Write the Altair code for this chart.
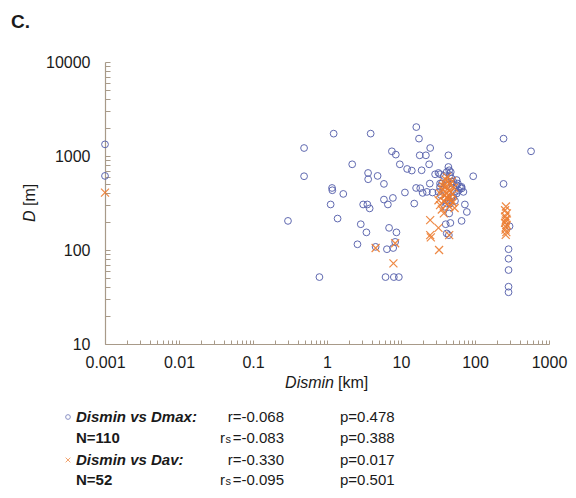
import altair as alt
import pandas as pd

# ---------------- data ----------------
# Dismin vs Dmax (circles), N=110
dmax_dismin = [0.001, 0.001, 0.297, 0.49, 0.49, 0.79, 1.23, 1.17, 1.18, 1.12,
               1.39, 1.66, 2.19, 2.86, 2.58, 3.41, 3.59, 3.6, 3.89, 3.08,
               3.51, 3.77, 4.83, 5.88, 5.88, 6.65, 7.77, 6.9, 8.68, 4.54,
               6.45, 7.84, 8.34, 6.18, 8.0, 9.35, 7.53, 8.51, 9.64, 11.3,
               12.1, 14.0, 15.1, 16.1, 17.5, 16.0, 18.2, 19.6, 17.9, 21.7,
               24.8, 19.0, 24.0, 24.5, 26.7, 28.9, 32.1, 43.7, 43.7, 44.8,
               94.6, 73.0, 77.6, 65.9, 40.2, 46.5, 41.5, 44.3, 44.8, 243,
               572, 243, 293, 284, 284, 284, 284, 284, 22.4, 33.7,
               41.5, 48.4, 56.5, 65.9, 53.6, 48.4, 53.6, 45.9, 41.5, 45.9,
               47.0, 33.7, 37.9, 48.4, 50.9, 56.5, 58.6, 62.5, 66.0, 69.7,
               56.5, 50.9, 44.0, 41.5, 35.6, 33.7, 32.1, 34.5, 39.4, 60.0]
dmax_d = [1330, 614, 204, 1216, 609, 51.5, 1729, 457, 432, 305,
          216, 395, 816, 188, 115, 154, 660, 566, 1730, 305,
          305, 277, 614, 505, 344, 305, 358, 172, 154, 108,
          102, 105, 122, 51.5, 51.5, 51.5, 1122, 1035, 816, 409,
          728, 700, 312, 2031, 1530, 457, 454, 405, 1017, 1017,
          1216, 705, 816, 509, 409, 639, 660, 1017, 764, 705,
          609, 305, 254, 204, 188, 194, 150, 144, 245, 1530,
          1122, 505, 179, 102, 80.7, 61.2, 40.7, 35.5, 415, 509,
          489, 509, 489, 469, 415, 367, 333, 312, 676, 624,
          676, 640, 614, 575, 534, 555, 509, 469, 452, 415,
          399, 367, 338, 312, 509, 469, 415, 384, 288, 430]

# Dismin vs Dav (crosses), N=52
dav_dismin = [0.001, 4.54, 8.34, 7.9, 24.8, 32.1, 24.8, 25.3, 44.8, 32.7,
              262, 255, 270, 258, 265, 260, 255, 268, 262, 258,
              265, 260, 33.7, 32.1, 33.7, 35.6, 37.9, 40.0, 42.0, 44.0,
              46.0, 38.0, 40.0, 43.0, 45.0, 47.0, 50.0, 36.0, 39.0, 41.0,
              44.0, 48.0, 50.0, 42.0, 45.0, 52.0, 38.0, 46.0, 49.0, 41.0,
              37.0, 53.0]
dav_d = [408, 105, 118, 72, 208, 172, 144, 136, 144, 100,
         290, 265, 245, 228, 215, 205, 195, 185, 175, 165,
         155, 145, 400, 338, 300, 270, 245, 560, 600, 540,
         500, 520, 470, 450, 430, 410, 390, 440, 380, 360,
         350, 340, 320, 310, 290, 460, 330, 370, 540, 410,
         480, 280]

x_labels = [0.001, 0.01, 0.1, 1, 10, 100, 1000]
y_labels = [10, 100, 1000, 10000]
x_minor = [m * 10.0 ** e for e in range(-3, 3) for m in range(1, 10)] + [1000]
y_minor = [m * 10.0 ** e for e in range(1, 4) for m in range(1, 10)] + [10000]

series_labels = ["Dismin vs Dmax:", "Dismin vs Dav:"]
n_labels = ["N=110", "N=52"]
r_values = ["r=-0.068", "r=-0.330"]
rs_values = ["=-0.083", "=-0.095"]
p_values = ["p=0.478", "p=0.017"]
ps_values = ["p=0.388", "p=0.501"]

# ---------------- style ----------------
BLUE = "#5862ad"
ORANGE = "#ED7D31"
AXIS = "#a89a89"
TXT = "#1a1a1a"
FONT = "Liberation Sans"

W, H = 444, 282
OX, OY = 105, 62  # page position of plot origin (used only for annotations)

df_max = pd.DataFrame({"dismin": dmax_dismin, "d": dmax_d})
df_av = pd.DataFrame({"dismin": dav_dismin, "d": dav_d})

xscale = alt.Scale(type="log", domain=[0.001, 1000], nice=False)
yscale = alt.Scale(type="log", domain=[10, 10000], nice=False)

x_main_axis = alt.Axis(orient="bottom", values=x_labels, format="~g", ticks=False,
                       grid=False, domainColor=AXIS, domainWidth=1.2, labelFont=FONT,
                       labelFontSize=16, labelColor=TXT, labelPadding=10, title=None,
                       labelFlush=False, labelOverlap=False)
y_main_axis = alt.Axis(orient="left", values=y_labels, format="~g", ticks=False,
                       grid=False, domainColor=AXIS, domainWidth=1.2, labelFont=FONT,
                       labelFontSize=16, labelColor=TXT, labelPadding=15, title=None,
                       labelFlush=False, labelOverlap=False)
x_minor_axis = alt.Axis(orient="bottom", values=x_minor, labels=False, domain=False,
                        grid=False, tickColor=AXIS, tickSize=4, offset=-4, title=None)
y_minor_axis = alt.Axis(orient="left", values=y_minor, labels=False, domain=False,
                        grid=False, tickColor=AXIS, tickSize=5, offset=-5, title=None)

circles = alt.Chart(df_max).mark_point(
    shape="circle", filled=False, size=46, strokeWidth=1, color=BLUE, opacity=0.95
).encode(
    x=alt.X("dismin:Q", scale=xscale, axis=x_main_axis),
    y=alt.Y("d:Q", scale=yscale, axis=y_main_axis),
)

crosses = alt.Chart(df_av).mark_point(
    shape="M-1,-1L1,1M-1,1L1,-1", filled=False, size=64, strokeWidth=1.2,
    color=ORANGE, opacity=0.9
).encode(
    x=alt.X("dismin:Q", scale=xscale, axis=x_minor_axis),
    y=alt.Y("d:Q", scale=yscale, axis=y_minor_axis),
)


def txt(s, px, py, size=15, weight="normal", style="normal", align="left",
        color=TXT, angle=0):
    return alt.Chart(pd.DataFrame({"t": [s]})).mark_text(
        font=FONT, fontSize=size, fontWeight=weight, fontStyle=style,
        align=align, baseline="middle", color=color, angle=angle
    ).encode(text="t:N", x=alt.value(px - OX), y=alt.value(py - OY))


def sym(shape, px, py, color, size):
    return alt.Chart(pd.DataFrame({"t": [0]})).mark_point(
        shape=shape, filled=False, size=size, strokeWidth=1, color=color
    ).encode(x=alt.value(px - OX), y=alt.value(py - OY))


layers = [circles, crosses]
# panel letter
layers.append(txt("C.", 11, 22, size=19, weight="bold"))
# x-axis title: italic + normal
layers.append(txt("Dismin", 334, 383, size=16, style="italic", align="right"))
layers.append(txt("[km]", 338, 383, size=16))
# y-axis title (rotated)
layers.append(txt("D", 30, 222, size=16, style="italic", angle=270))
layers.append(txt("[m]", 30, 206, size=16, angle=270))

# statistics block
rows_y = [(417, 438), (460, 480)]
shapes = [("circle", BLUE, 22), ("M-1,-1L1,1M-1,1L1,-1", ORANGE, 22)]
for i in range(2):
    y1, y2 = rows_y[i]
    sh, col, sz = shapes[i]
    layers.append(sym(sh, 68, y1, col, sz))
    layers.append(txt(series_labels[i], 76, y1, weight="bold", style="italic"))
    layers.append(txt(n_labels[i], 76, y2, weight="bold"))
    layers.append(txt(r_values[i], 284, y1, align="right"))
    layers.append(txt(rs_values[i], 284, y2, align="right"))
    layers.append(txt("s", 231, y2 + 2, size=11, align="right"))
    layers.append(txt("r", 225, y2, align="right"))
    layers.append(txt(p_values[i], 340, y1))
    layers.append(txt(ps_values[i], 340, y2))

chart = alt.layer(*layers).resolve_axis(x="independent", y="independent").properties(
    width=W, height=H,
    autosize=alt.AutoSizeParams(type="none"),
    padding={"left": OX - 8, "top": OY - 8, "right": 576 - 16 - (OX - 8) - W,
             "bottom": 498 - 16 - (OY - 8) - H},
    background="white",
).configure_view(stroke=None)

chart.save("out.html", embed_options={"renderer": "svg", "actions": False})
